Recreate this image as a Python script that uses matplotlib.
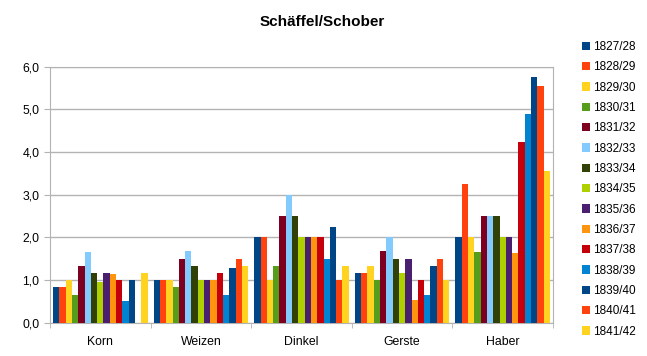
import matplotlib
matplotlib.use("Agg")
import matplotlib.pyplot as plt
import numpy as np

categories = ["Korn", "Weizen", "Dinkel", "Gerste", "Haber"]
series = ["1827/28", "1828/29", "1829/30", "1830/31", "1831/32", "1832/33", "1833/34",
          "1834/35", "1835/36", "1836/37", "1837/38", "1838/39", "1839/40", "1840/41", "1841/42"]
# values per category, one entry per series
korn   = [0.83, 0.83, 1.0, 0.66, 1.33, 1.66, 1.16, 0.96, 1.16, 1.15, 1.0, 0.5, 1.0, 0.0, 1.16]
weizen = [1.0, 1.0, 1.0, 0.83, 1.5, 1.67, 1.33, 1.0, 1.0, 1.0, 1.16, 0.66, 1.28, 1.5, 1.33]
dinkel = [2.0, 2.0, 1.0, 1.33, 2.5, 3.0, 2.5, 2.0, 2.0, 2.0, 2.0, 1.5, 2.25, 1.0, 1.33]
gerste = [1.16, 1.16, 1.33, 1.0, 1.67, 2.0, 1.5, 1.16, 1.5, 0.53, 1.0, 0.66, 1.33, 1.5, 1.0]
haber  = [2.0, 3.24, 2.0, 1.66, 2.5, 2.5, 2.5, 2.0, 2.0, 1.63, 4.24, 4.88, 5.77, 5.55, 3.55]
colors = ["#004586", "#ff420e", "#ffd320", "#579d1c", "#7e0021", "#83caff", "#314004",
          "#aecf00", "#4b1f6f", "#ff950e", "#c5000b", "#0084d1", "#004586", "#ff420e", "#ffd320"]

data = np.array([korn, weizen, dinkel, gerste, haber])

plt.rcParams['font.family'] = ['Liberation Sans', 'DejaVu Sans']
fig = plt.figure(figsize=(6.47, 3.56), dpi=100)
ax = fig.add_axes([50/647, 1-322.7/356, 503/647, (322.7-66.7)/356])

n = len(series)
group = 0.94
w = group / n
x = np.arange(len(categories))
for i, s in enumerate(series):
    ax.bar(x - group/2 + w*(i+0.5), data[:, i], width=w, color=colors[i], label=s, zorder=3)

ax.set_xlim(-0.5, len(categories)-0.5)
ax.set_ylim(0, 6)
ax.set_yticks(np.arange(0, 7, 1))
ax.set_yticklabels([f"{v:.1f}".replace(".", ",") for v in np.arange(0, 7, 1)], fontsize=8.8)
ax.yaxis.grid(True, color="#b3b3b3", linewidth=1, zorder=0)
ax.set_xticks(x)
ax.set_xticklabels(categories, fontsize=8.8)
ax.tick_params(axis="x", length=0, pad=9.5)
ax.set_xticks(np.arange(-0.5, len(categories), 1), minor=True)
ax.tick_params(axis="x", which="minor", length=3.5, color="#b3b3b3")
ax.tick_params(axis="y", length=4.5, color="#b3b3b3", pad=3)
for sp in ax.spines.values():
    sp.set_color("#b3b3b3")

fig.text(322/647, 1-21.5/356, "Schäffel/Schober", ha="center", va="center", fontsize=11, fontweight="bold")

handles, labels = ax.get_legend_handles_labels()
leg = fig.legend(handles, labels, loc="upper left", bbox_to_anchor=(582/647, 1-41/356),
                 frameon=False, fontsize=8.5, handlelength=0.7, handleheight=0.7,
                 handletextpad=0.25, labelspacing=0.705, borderpad=0, borderaxespad=0)

fig.savefig("out.png", dpi=100)
